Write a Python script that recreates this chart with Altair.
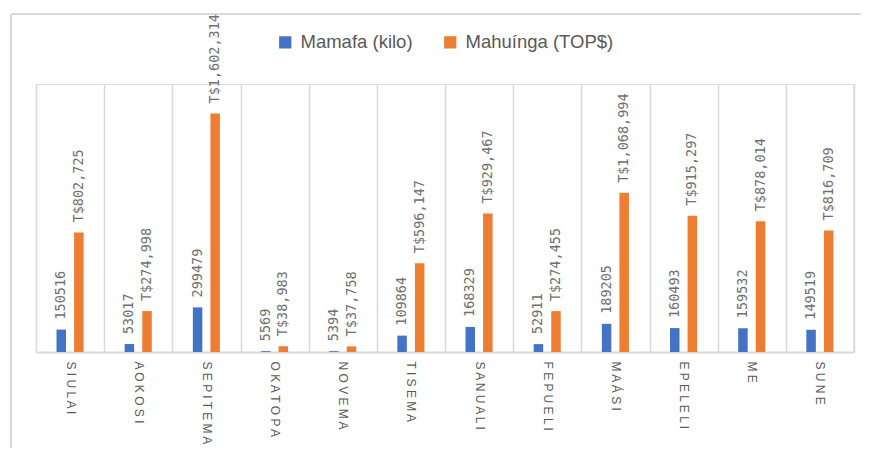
import altair as alt
import pandas as pd

months = ["SIULAI", "AOKOSI", "SEPITEMA", "OKATOPA", "NOVEMA", "TISEMA",
          "SANUALI", "FEPUELI", "MAÁSI", "EPELELI", "ME", "SUNE"]
weight_kg = [150516, 53017, 299479, 5569, 5394, 109864,
             168329, 52911, 189205, 160493, 159532, 149519]
value_top = [802725, 274998, 1602314, 38983, 37758, 596147,
             929467, 274455, 1068994, 915297, 878014, 816709]
series_names = ["Mamafa (kilo)", "Mahuínga (TOP$)"]
colors = ["#4472C4", "#ED7D31"]

rows = []
for i, m in enumerate(months):
    label_m = " ".join(list(m))
    rows.append({"month": label_m, "series": series_names[0], "value": weight_kg[i],
                 "label": str(weight_kg[i])})
    rows.append({"month": label_m, "series": series_names[1], "value": value_top[i],
                 "label": "T$" + f"{value_top[i]:,}"})
df = pd.DataFrame(rows)
month_order = [" ".join(list(m)) for m in months]

W, H = 818, 268

x_enc = alt.X("month:N", sort=month_order, title=None,
              scale=alt.Scale(paddingInner=0, paddingOuter=0),
              axis=alt.Axis(labelAngle=90, labelFontSize=12, labelColor="#595959",
                            labelFont="Liberation Sans", labelPadding=9,
                            ticks=False, grid=True, tickBand="extent",
                            gridColor="#d9d9d9", gridWidth=1.5,
                            domainColor="#d9d9d9", domainWidth=2))
xoff = alt.XOffset("series:N", sort=series_names,
                   scale=alt.Scale(domain=series_names, range=[20.5, 47.6],
                                   paddingInner=0.46, paddingOuter=0))
y_enc = alt.Y("value:Q", scale=alt.Scale(domain=[0, 1800000], nice=False), axis=None)

base = alt.Chart(df)

bars = base.mark_bar().encode(
    x=x_enc, xOffset=xoff, y=y_enc,
    color=alt.Color("series:N", sort=series_names,
                    scale=alt.Scale(domain=series_names, range=colors),
                    legend=alt.Legend(title=None, orient="none", direction="horizontal",
                                      legendX=240, legendY=-51, symbolType="square",
                                      symbolSize=150, symbolStrokeWidth=0,
                                      labelFontSize=18.5, labelColor="#595959",
                                      labelFont="Liberation Sans", labelOffset=6,
                                      columnPadding=28, padding=0)),
)

labels = base.mark_text(angle=270, align="left", baseline="middle", dx=10,
                        font="DejaVu Sans Mono", fontSize=13.5, color="#707070").encode(
    x=alt.X("month:N", sort=month_order), xOffset=xoff, y=y_enc, text="label:N"
)

frame_df = pd.DataFrame({"a": [0]})
right_edge = alt.Chart(frame_df).mark_rule(color="#d9d9d9", strokeWidth=1.5).encode(
    x=alt.value(W), y=alt.value(0), y2=alt.value(H))
frame_left = alt.Chart(frame_df).mark_rule(color="#d9d9d9", strokeWidth=2).encode(
    x=alt.value(-25), y=alt.value(-70), y2=alt.value(H + 100))
frame_top = alt.Chart(frame_df).mark_rule(color="#d9d9d9", strokeWidth=2).encode(
    x=alt.value(-25), x2=alt.value(W + 20), y=alt.value(-70))

chart = alt.layer(frame_left, frame_top, right_edge, bars, labels).properties(
    width=W, height=H,
    autosize=alt.AutoSizeParams(type="none"),
    padding={"left": 28, "top": 76, "right": 7, "bottom": 96},
).configure_view(stroke=None).configure(background="white")

chart.save("out.html", embed_options={"renderer": "svg", "actions": False})
